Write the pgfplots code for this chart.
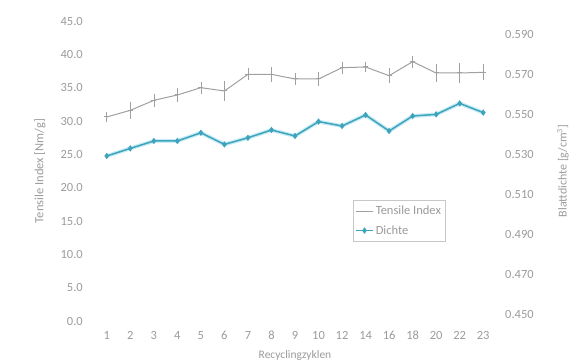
\documentclass[border=0pt]{standalone}
\usepackage{pgfplots}
\pgfplotsset{compat=1.18}
\usepackage{fontspec}
\setmainfont{Carlito}

\definecolor{txtgray}{RGB}{155,155,155}
\definecolor{tigray}{RGB}{160,160,160}
\definecolor{dichte}{RGB}{62,164,188}
\definecolor{glow}{RGB}{200,236,245}

\pgfplotsset{
  common/.style={
    scale only axis,
    width=400pt, height=300pt,
    at={(95pt,40pt)}, anchor=south west,
    xmin=-0.5, xmax=16.5,
    axis line style={draw=none},
    major tick length=0pt,
    tick style={draw=none},
    font=\fontsize{12.5}{15}\selectfont,
    tick label style={text=txtgray},
    label style={text=txtgray},
    /pgf/number format/assume math mode=true,
    clip=false,
  },
}

\begin{document}
\begin{tikzpicture}[x=1pt,y=1pt]
\path[use as bounding box] (0,0) rectangle (576,361);

% left axis: tensile index
\begin{axis}[common,
  ymin=0, ymax=45,
  ytick={0,5,...,45},
  yticklabel style={/pgf/number format/fixed, /pgf/number format/fixed zerofill, /pgf/number format/precision=1},
  yticklabel style={anchor=east, inner sep=0pt, xshift=-12pt},
  xtick={0,...,16},
  xticklabels={1,2,3,4,5,6,7,8,9,10,12,14,16,18,20,22,23},
  xticklabel style={anchor=north, inner sep=0pt, yshift=-10pt},
  xlabel={Recyclingzyklen},
  xlabel style={at={(axis description cs:0.5,0)}, anchor=north, yshift=-26pt, font=\fontsize{11.5}{13}\selectfont},
  ylabel={Tensile Index [Nm/g]},
  ylabel style={at={(axis description cs:-0.1375,0.5)}, anchor=center, font=\fontsize{12.5}{14}\selectfont},
]
\addplot[tigray, line width=1pt, mark=-, mark size=2.5pt,
  error bars/.cd, y dir=both, y explicit,
  error bar style={tigray, line width=0.6pt},
  error mark options={tigray, mark size=2pt, line width=0.6pt}]
  coordinates {
  (0,30.6) +- (0,0.5)
  (1,31.6) +- (0,1.0)
  (2,33.1) +- (0,0.7)
  (3,33.9) +- (0,0.8)
  (4,35.0) +- (0,0.6)
  (5,34.5) +- (0,1.2)
  (6,37.0) +- (0,0.6)
  (7,37.0) +- (0,0.8)
  (8,36.3) +- (0,0.6)
  (9,36.3) +- (0,0.7)
  (10,38.0) +- (0,0.6)
  (11,38.1) +- (0,0.5)
  (12,36.8) +- (0,0.8)
  (13,38.9) +- (0,0.6)
  (14,37.2) +- (0,1.0)
  (15,37.2) +- (0,1.2)
  (16,37.3) +- (0,0.9)
  };
\end{axis}

% right axis: density
\begin{axis}[common,
  ymin=0.4465, ymax=0.5965,
  ytick={0.45,0.47,...,0.59},
  axis x line=none,
  axis y line*=right,
  yticklabel style={/pgf/number format/fixed, /pgf/number format/fixed zerofill, /pgf/number format/precision=3},
  yticklabel style={anchor=west, inner sep=0pt, xshift=10pt},
  ylabel={Blattdichte [g/cm\textsuperscript{3}]},
  ylabel style={at={(axis description cs:1.17,0.5)}, anchor=center, font=\fontsize{12}{14}\selectfont},
  legend style={at={(axis description cs:0.645,0.403)}, anchor=north west,
    draw={rgb,255:red,200;green,200;blue,200}, fill=white,
    font=\fontsize{12.5}{14}\selectfont, text=txtgray,
    inner xsep=2pt, inner ysep=4pt, row sep=5pt,
    cells={anchor=west}},
]
\addlegendimage{tigray, line width=1pt, mark=-, mark size=2.5pt}
\addlegendentry{Tensile Index}
\addplot[glow, line width=4pt, forget plot] coordinates {
  (0,0.529) (1,0.5328) (2,0.5365) (3,0.5365) (4,0.5406) (5,0.5348)
  (6,0.5381) (7,0.542) (8,0.539) (9,0.5462) (10,0.544) (11,0.5495)
  (12,0.5415) (13,0.549) (14,0.5498) (15,0.5553) (16,0.5507)
  };
\addplot[dichte, line width=1.5pt, mark=diamond*, mark size=2pt] coordinates {
  (0,0.529) (1,0.5328) (2,0.5365) (3,0.5365) (4,0.5406) (5,0.5348)
  (6,0.5381) (7,0.542) (8,0.539) (9,0.5462) (10,0.544) (11,0.5495)
  (12,0.5415) (13,0.549) (14,0.5498) (15,0.5553) (16,0.5507)
  };
\addlegendentry{Dichte}
\end{axis}
\end{tikzpicture}
\end{document}
